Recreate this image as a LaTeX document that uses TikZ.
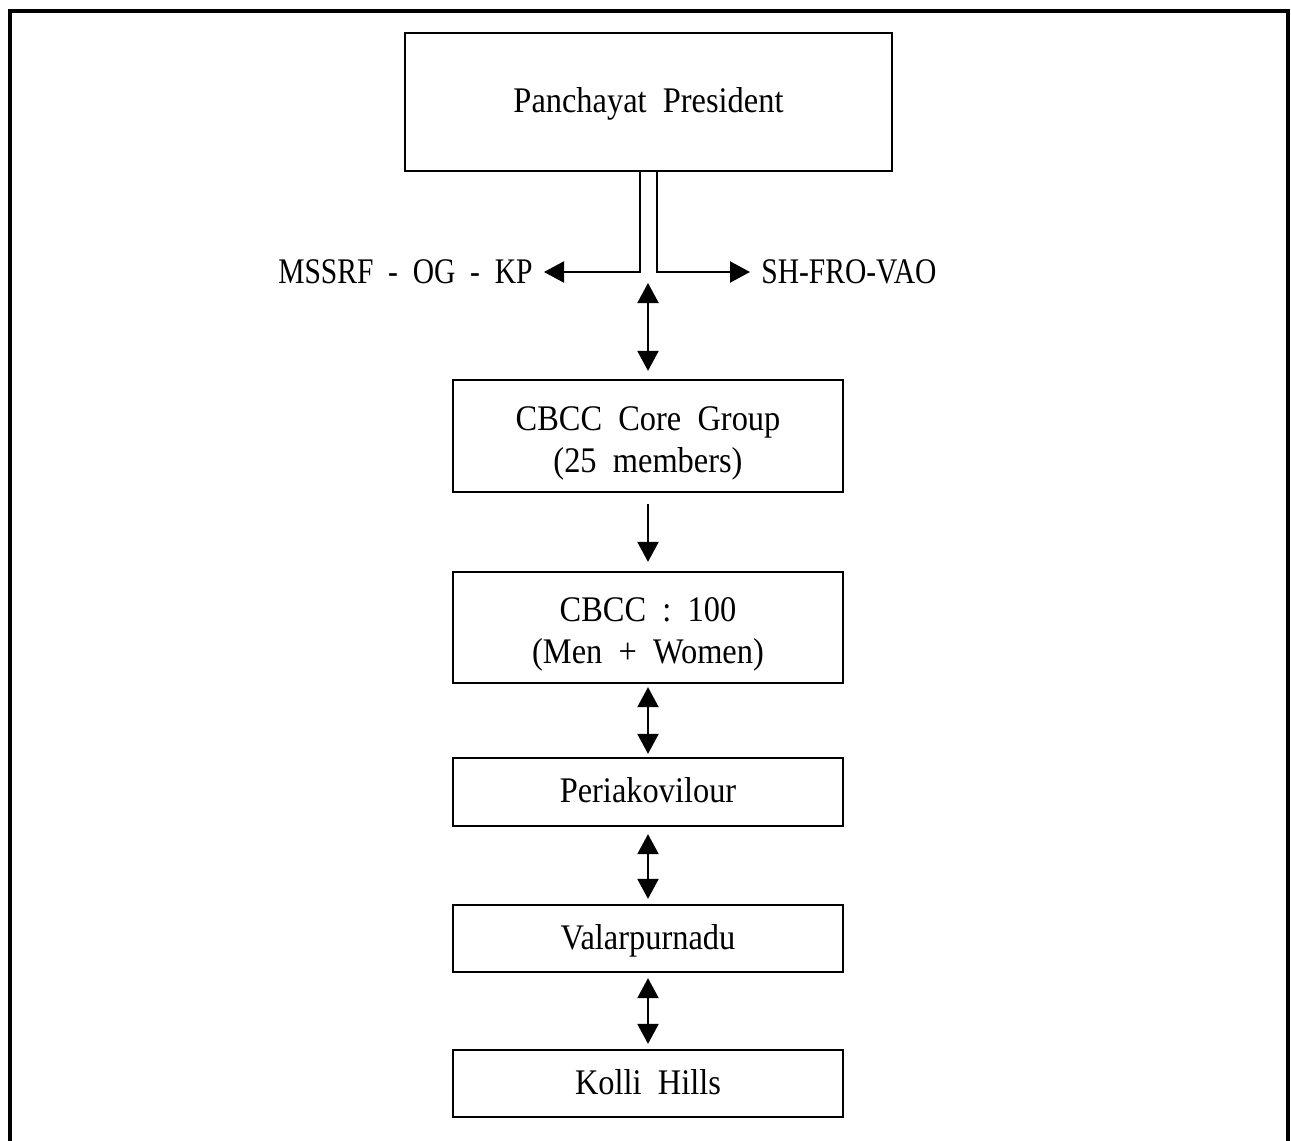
\documentclass[tikz,border=0pt]{standalone}
\usepackage{fontspec}
\setmainfont{Liberation Serif}[FakeStretch=0.9]
\newfontfamily\capsfont{Liberation Serif}[FakeStretch=0.82]
\usetikzlibrary{arrows.meta}
\begin{document}
\begin{tikzpicture}[x=0.02cm,y=-0.02cm,
  >={Triangle[length=0.4cm,width=0.42cm]},
  box/.style={draw,line width=1.3pt,minimum width=7.8cm,inner sep=0pt,
    font=\fontsize{20.5}{24}\selectfont,text height=17pt,text depth=4.5pt},
  twoline/.style={text height=10pt,text depth=16.8pt},
  lbl/.style={inner sep=0.22cm,font=\fontsize{20.5}{24}\selectfont\capsfont},
  uni/.style={line width=1.2pt,->},
  dbl/.style={line width=1.2pt,<->}]
\useasboundingbox (0,0) rectangle (1291,1140);
% outer frame, open at the bottom
\draw[line width=2pt] (10,1145) -- (10,11) -- (1288,11) -- (1288,1145);

\node[box,minimum width=9.74cm,minimum height=2.76cm] (pres) at (648.5,102) {Panchayat\ \ President};
\node[box,twoline,minimum height=2.24cm] (core) at (648,436)
  {\begin{tabular}[t]{@{}c@{}}CBCC\ \ Core\ \ Group\\(25\ \ members)\end{tabular}};
\node[box,twoline,minimum height=2.22cm] (cbcc) at (648,627.5)
  {\begin{tabular}[t]{@{}c@{}}CBCC\ \ :\ \ 100\\(Men\ \ +\ \ Women)\end{tabular}};
\node[box,minimum height=1.36cm] (peri) at (648,792) {Periakovilour};
\node[box,minimum height=1.34cm] (valar) at (648,938.5) {Valarpurnadu};
\node[box,minimum height=1.34cm] (kolli) at (648,1083.5) {Kolli\ \ Hills};

\node[lbl,anchor=east] (mssrf) at (544,272) {MSSRF\ \ -\ \ OG\ \ -\ \ KP};
\node[lbl,anchor=west] (sh) at (750,272) {SH-FRO-VAO};
\coordinate (hub) at (648,272);

% split link from the president
\draw[uni] ([xshift=-0.17cm]pres.south) |- (mssrf.east);
\draw[uni] ([xshift=0.17cm]pres.south) |- (sh.west);

% vertical chain
\draw[dbl] ([yshift=-0.22cm]hub) -- ([yshift=0.16cm]core.north);
\draw[uni] ([yshift=-0.22cm]core.south) -- ([yshift=0.18cm]cbcc.north);
\draw[dbl] ([yshift=-0.06cm]cbcc.south) -- ([yshift=0.06cm]peri.north);
\draw[dbl] ([yshift=-0.14cm]peri.south) -- ([yshift=0.1cm]valar.north);
\draw[dbl] ([yshift=-0.1cm]valar.south) -- ([yshift=0.1cm]kolli.north);
\end{tikzpicture}
\end{document}
